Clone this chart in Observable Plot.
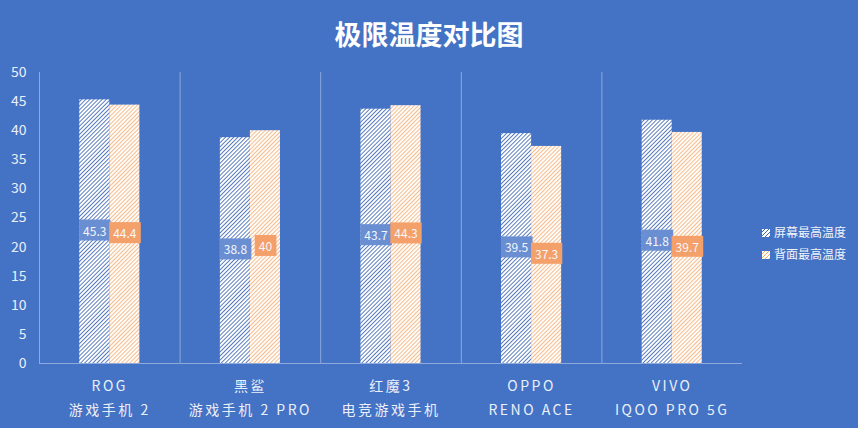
<!DOCTYPE html>
<html><head><meta charset="utf-8">
<script src="https://cdn.jsdelivr.net/npm/d3@7"></script>
<script src="https://cdn.jsdelivr.net/npm/@observablehq/plot@0.6"></script>
<style>
html,body{margin:0;padding:0;background:#4472C4;}
#wrap{position:relative;width:858px;height:428px;background:#4472C4;font-family:"Noto Sans CJK SC","Noto Sans",sans-serif;overflow:hidden;}
#title{position:absolute;left:0;top:13px;width:858px;text-align:center;color:#fff;font-size:27px;font-weight:bold;line-height:42px;}
#legend{position:absolute;left:762px;top:221px;color:#F0F4FB;font-size:12px;line-height:22px;}
#legend .sw{display:inline-block;width:8px;height:8px;margin-right:4px;vertical-align:-0px;}
#chart{position:absolute;left:0;top:0;}
</style></head>
<body><div id="wrap"><div id="title"></div><div id="chart"></div><div id="legend"></div></div>
<script>
const title = "极限温度对比图";
const categories = ["ROG\n游戏手机 2", "黑鲨\n游戏手机 2 PRO", "红魔3\n电竞游戏手机", "OPPO\nRENO ACE", "VIVO\nIQOO PRO 5G"];
const seriesNames = ["屏幕最高温度", "背面最高温度"];
const screenTemp = [45.3, 38.8, 43.7, 39.5, 41.8];
const backTemp = [44.4, 40, 44.3, 37.3, 39.7];
const yTicks = [0, 5, 10, 15, 20, 25, 30, 35, 40, 45, 50];

const data = [];
categories.forEach((c, i) => {
  data.push({cat: c, series: seriesNames[0], v: screenTemp[i]});
  data.push({cat: c, series: seriesNames[1], v: backTemp[i]});
});

const plot = Plot.plot({
  width: 858, height: 428,
  marginLeft: 39, marginRight: 116, marginTop: 72, marginBottom: 65,
  style: {background: "transparent", color: "#EAF0FA", fontFamily: "'Noto Sans CJK SC', sans-serif", fontSize: "14px"},
  fx: {domain: categories, padding: 0, label: null, round: false},
  x: {domain: seriesNames, paddingInner: 0, paddingOuter: 1.34, axis: null, round: false},
  y: {domain: [0, 50], label: null},
  marks: [
    Plot.frame({anchor: "left", stroke: "#8EA9DB", strokeOpacity: 1}),
    Plot.barY(data.filter(d => d.series === seriesNames[0]), {fx: "cat", x: "series", y: "v", fill: "url(#hatchBlue)", insetLeft: 0, insetRight: 0}),
    Plot.barY(data.filter(d => d.series === seriesNames[1]), {fx: "cat", x: "series", y: "v", fill: "url(#hatchOrange)", insetLeft: 0, insetRight: 0}),
    Plot.ruleY([0], {stroke: "#8EA9DB"}),
    Plot.text(data, {fx: "cat", x: "series", y: d => d.v / 2, text: d => String(d.v), fill: "#F4F7FC", fontSize: 12, className: "vlabel"}),
    Plot.axisY({ticks: yTicks, tickSize: 0, tickPadding: 13, label: null, fontSize: 14}),
    Plot.axisFx({anchor: "bottom", tickSize: 0, tickPadding: 11, label: null, lineHeight: 1.7, fontSize: 14, className: "fxaxis"})
  ]
});
document.getElementById("chart").appendChild(plot);

// pattern definitions
const svg = d3.select(plot);
const defs = svg.insert("defs", ":first-child");
function hatch(id, bg, fg, w) {
  const p = defs.append("pattern").attr("id", id).attr("patternUnits", "userSpaceOnUse")
    .attr("width", 2.9).attr("height", 2.9).attr("patternTransform", "rotate(45)");
  p.append("rect").attr("width", 2.9).attr("height", 2.9).attr("fill", bg);
  p.append("rect").attr("width", w).attr("height", 2.9).attr("fill", fg);
}
hatch("hatchBlue", "#FFFFFF", "#3F68B4", 0.85);
hatch("hatchOrange", "#FFFBF6", "#F2AA74", 0.75);

// label boxes behind value labels
svg.selectAll("g.vlabel text").each(function(d, i) {
  const t = d3.select(this);
  const isBack = data[d] && data[d].series === seriesNames[1];
  const bb = this.getBBox();
  const w = bb.width + 8;
  d3.select(this.parentNode).insert("rect", () => this)
    .attr("x", bb.x + bb.width / 2 - w / 2).attr("y", bb.y - 2)
    .attr("width", w).attr("height", bb.height + 4)
    .attr("transform", t.attr("transform"))
    .attr("fill", isBack ? "#F4A06A" : "#6A8ED2");
});
svg.selectAll("g.fxaxis text").style("letter-spacing", "2.5px");

document.getElementById("title").textContent = title;
const lg = document.getElementById("legend");
const swStyles = [
  "background:repeating-linear-gradient(-45deg,#3F68B4 0 1px,#FFFFFF 1px 2.9px)",
  "background:repeating-linear-gradient(-45deg,#F2AA74 0 0.9px,#FFFBF6 0.9px 2.9px)"
];
seriesNames.forEach((s, i) => {
  const div = document.createElement("div");
  div.innerHTML = `<span class="sw" style="${swStyles[i]}"></span>${s}`;
  lg.appendChild(div);
});
</script></body></html>
